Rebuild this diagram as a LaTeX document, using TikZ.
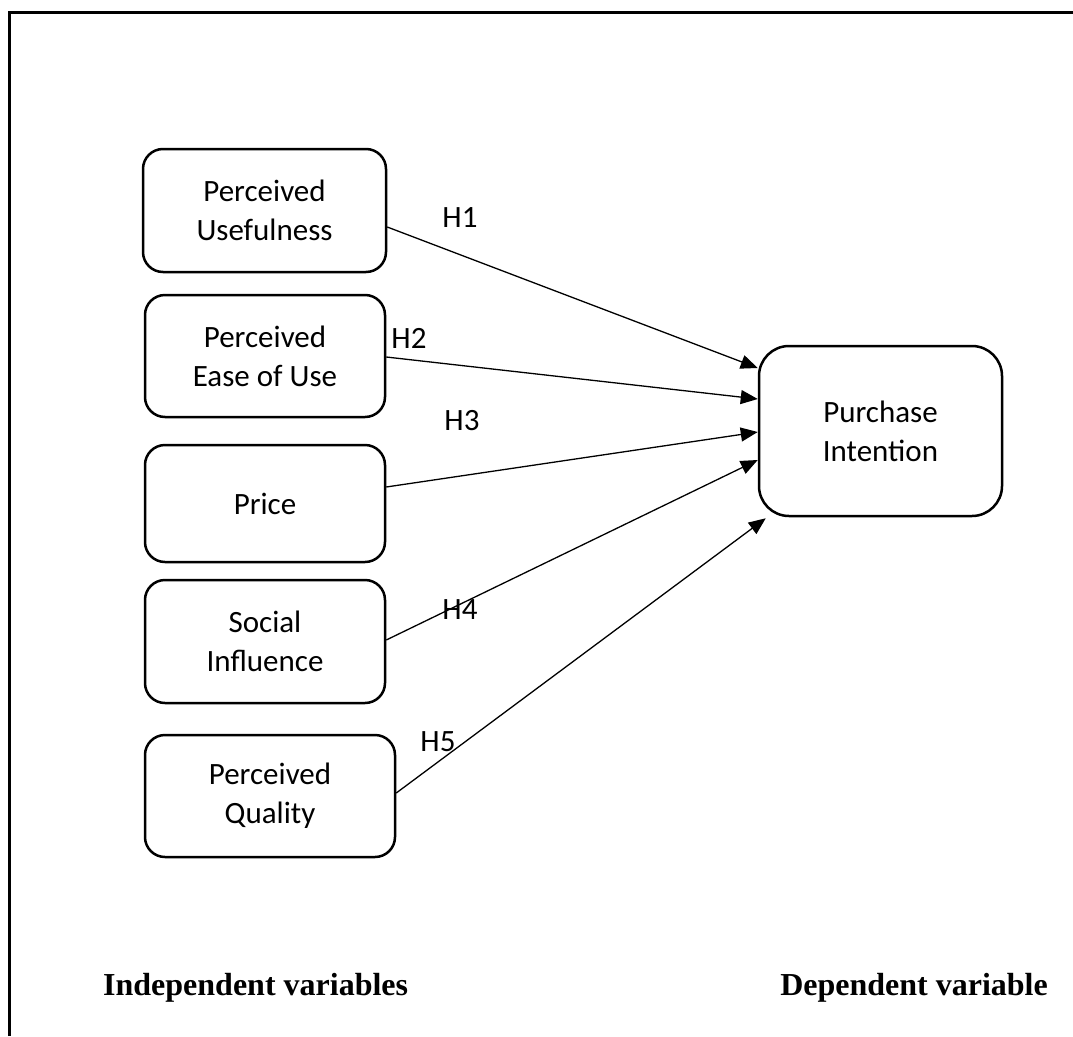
\documentclass[tikz,border=0pt]{standalone}
\usepackage{fontspec}
\newfontfamily\boxfont{Carlito}
\newfontfamily\legendfont{Liberation Serif}
\usetikzlibrary{arrows.meta}
\tikzset{
  var/.style={draw,line width=2.5pt,rounded corners=20pt,minimum width=240pt,minimum height=122pt,align=center,font=\boxfont\fontsize{31}{39}\selectfont},
  hyp/.style={-{Triangle[length=17pt,width=14pt]},line width=1.3pt},
  hlabel/.style={inner sep=0pt,font=\boxfont\fontsize{31}{39}\selectfont},
  legend/.style={inner sep=0pt,font=\legendfont\bfseries\fontsize{32}{38}\selectfont}
}
\begin{document}
\begin{tikzpicture}[x=1pt,y=-1pt]
\useasboundingbox (0,0) rectangle (1073,1036);
\draw[line width=3pt] (9.5,1036) -- (9.5,12) -- (1073,12);

\node[var,minimum width=243pt,minimum height=123pt] (pu) at (264.5,210.5) {Perceived\\Usefulness};
\node[var] (peou) at (265,356) {Perceived\\Ease of Use};
\node[var,minimum height=117pt] (pr) at (265,503.5) {Price};
\node[var,minimum height=123pt] (si) at (265,641.5) {Social\\Influence};
\node[var,minimum width=250pt] (pq) at (270,796) {Perceived\\Quality};
\node[var,minimum width=243pt,minimum height=170pt,rounded corners=30pt] (pi) at (880.5,431) {Purchase\\Intention};

\draw[hyp] ([yshift=-16.5pt]pu.east) -- ([yshift=63pt]pi.west);
\draw[hyp] ([yshift=-1pt]peou.east) -- ([yshift=32pt]pi.west);
\draw[hyp] ([yshift=16.5pt]pr.east) -- ([yshift=-1pt]pi.west);
\draw[hyp] ([yshift=1.5pt]si.east) -- ([yshift=-29pt]pi.west);
\draw[hyp] ([yshift=3pt]pq.east) -- ([xshift=8pt,yshift=-1pt]pi.south west);

\node[hlabel] (h1) at (460,218) {H1};
\node[hlabel] (h2) at (409,338) {H2};
\node[hlabel] (h3) at (462,421) {H3};
\node[hlabel] (h4) at (460,610) {H4};
\node[hlabel] (h5) at (438,742) {H5};

\node[legend,anchor=base west] (indep) at (103,995) {Independent variables};
\node[legend,anchor=base east] (dep) at (1048,995) {Dependent variable};
\end{tikzpicture}
\end{document}
